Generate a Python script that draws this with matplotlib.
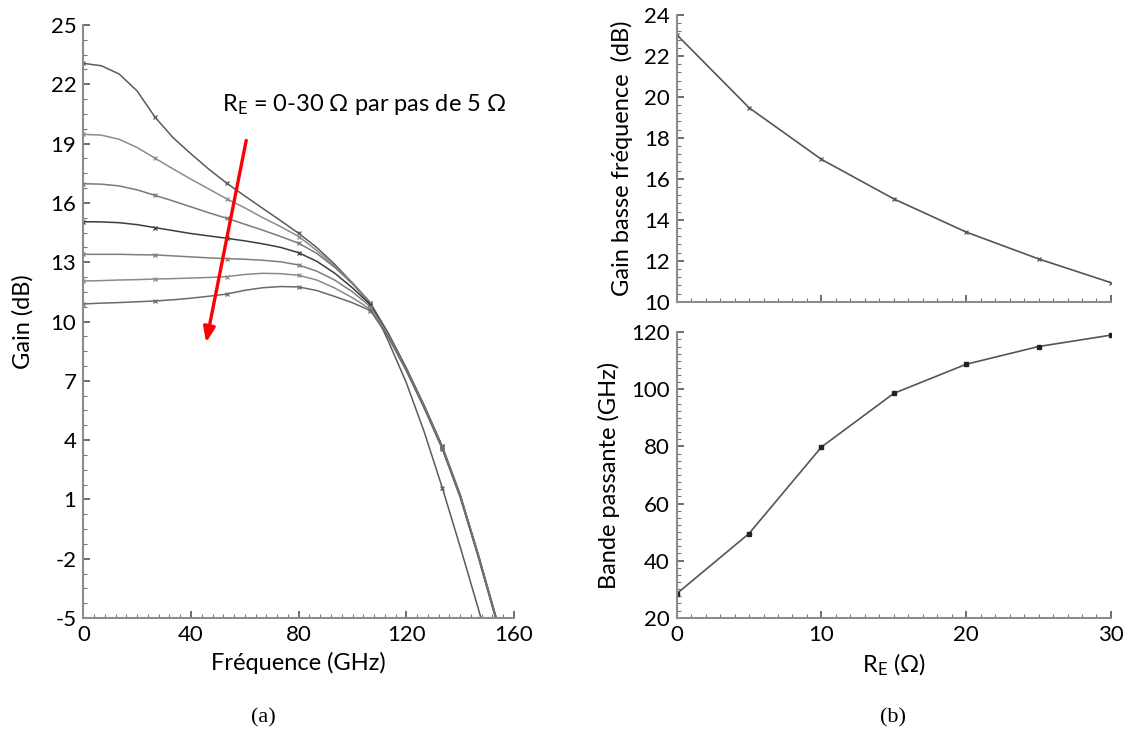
import numpy as np
import matplotlib
matplotlib.use("Agg")
import matplotlib.pyplot as plt
from matplotlib.ticker import FixedLocator

plt.rcParams['font.family'] = ['Lato', 'DejaVu Sans']
plt.rcParams['mathtext.fontset'] = 'custom'
plt.rcParams['mathtext.rm'] = 'Lato'
plt.rcParams['axes.unicode_minus'] = False

# fréquences (GHz) (a)
freq = [0, 6.67, 13.33, 20, 26.67, 33.33, 40, 46.67, 53.33, 60, 66.67, 73.33, 80,
        86.67, 93.33, 100, 106.67, 113.33, 120, 126.67, 133.33, 140, 146.67, 153.33, 160]

# gain (dB) pour RE = 0..30 ohm
gain_re0 = [23.06, 22.94, 22.52, 21.66, 20.33, 19.3, 18.48, 17.7, 16.99, 16.35, 15.72, 15.1, 14.46,
            13.75, 12.9, 11.95, 10.95, 9.0, 6.9, 4.4, 1.6, -1.4, -4.5, -7.7, -11.0]
gain_re5 = [19.47, 19.43, 19.22, 18.8, 18.26, 17.72, 17.2, 16.7, 16.2, 15.75, 15.25, 14.8, 14.3,
            13.6, 12.8, 11.95, 10.95, 9.4, 7.65, 5.75, 3.7, 1.25, -1.75, -4.95, -8.25]
gain_re10 = [16.97, 16.95, 16.86, 16.66, 16.38, 16.1, 15.8, 15.5, 15.22, 14.92, 14.62, 14.3, 13.96,
             13.45, 12.75, 11.9, 10.9, 9.38, 7.63, 5.73, 3.68, 1.22, -1.78, -4.98, -8.28]
gain_re15 = [15.05, 15.04, 15.0, 14.9, 14.75, 14.6, 14.45, 14.33, 14.21, 14.08, 13.93, 13.75, 13.48,
             13.05, 12.45, 11.7, 10.85, 9.35, 7.6, 5.7, 3.65, 1.2, -1.8, -5.0, -8.3]
gain_re20 = [13.4, 13.4, 13.4, 13.38, 13.37, 13.32, 13.27, 13.22, 13.18, 13.15, 13.1, 13.02, 12.86,
             12.55, 12.1, 11.5, 10.75, 9.3, 7.57, 5.67, 3.62, 1.17, -1.83, -5.03, -8.33]
gain_re25 = [12.05, 12.07, 12.1, 12.12, 12.15, 12.17, 12.2, 12.23, 12.27, 12.38, 12.44, 12.42, 12.34,
             12.1, 11.7, 11.2, 10.62, 9.25, 7.54, 5.64, 3.59, 1.14, -1.86, -5.06, -8.36]
gain_re30 = [10.89, 10.93, 10.96, 11.0, 11.04, 11.1, 11.18, 11.28, 11.39, 11.58, 11.71, 11.77, 11.75,
             11.57, 11.27, 10.95, 10.55, 9.2, 7.5, 5.6, 3.55, 1.1, -1.9, -5.1, -8.4]

courbes = [gain_re0, gain_re5, gain_re10, gain_re15, gain_re20, gain_re25, gain_re30]
couleurs = ['#5a5a5a', '#8c8c8c', '#7a7a7a', '#3c3c3c', '#7e7e7e', '#8a8a8a', '#6a6a6a']

# figure (b)
re_ohm = [0, 5, 10, 15, 20, 25, 30]
gain_bf = [23.04, 19.47, 16.95, 15.02, 13.4, 12.09, 10.93]
bande = [28.4, 49.5, 79.8, 98.6, 108.8, 115.0, 119.0]

gris = '#8c8c8c'
fs_tick = 16
fs_lab = 17


def style_axe(ax):
    for s in ['top', 'right']:
        ax.spines[s].set_visible(False)
    for s in ['left', 'bottom']:
        ax.spines[s].set_color(gris)
        ax.spines[s].set_linewidth(1.5)
    ax.tick_params(which='major', direction='in', length=5, width=1.2, color='#555555',
                   labelsize=fs_tick, pad=5)
    ax.tick_params(which='minor', direction='in', length=3, width=0.8, color='#777777')


fig = plt.figure(figsize=(11.28, 7.56), dpi=100)

# (a) gain vs fréquence
ax1 = fig.add_axes([0.0739, 0.1825, 0.3818, 0.7844])
for g, c in zip(courbes, couleurs):
    ax1.plot(freq, g, color=c, lw=1.1, marker='x', ms=3, mew=0.9, markevery=4)
ax1.set_xlim(0, 160)
ax1.set_ylim(-5, 25)
ax1.set_xticks([0, 40, 80, 120, 160])
ax1.set_yticks(np.arange(-5, 26, 3))
ax1.xaxis.set_minor_locator(FixedLocator(np.arange(0, 160.1, 4)))
ax1.yaxis.set_minor_locator(FixedLocator(np.arange(-5, 25.01, 0.75)))
style_axe(ax1)
ax1.set_xlabel('Fréquence (GHz)', fontsize=fs_lab, labelpad=5)
ax1.set_ylabel('Gain (dB)', fontsize=fs_lab, labelpad=12)
ax1.annotate('', xy=(45.4, 8.8), xytext=(60.7, 19.3),
             arrowprops=dict(arrowstyle='-|>,head_length=0.9,head_width=0.35',
                             color='#ff0000', lw=2.4))
ax1.text(51.5, 20.65, r'$\mathregular{R_E}$ = 0-30 Ω par pas de 5 Ω', fontsize=17,
         va='baseline', ha='left')

# (b) haut : gain basse fréquence
ax2 = fig.add_axes([0.5999, 0.6009, 0.385, 0.3793])
ax2.plot(re_ohm, gain_bf, color='#555555', lw=1.2, marker='x', ms=3, mew=0.9)
ax2.set_xlim(0, 30)
ax2.set_ylim(10, 24)
ax2.set_xticks([0, 10, 20, 30])
ax2.set_xticklabels([])
ax2.set_yticks(np.arange(10, 25, 2))
ax2.xaxis.set_minor_locator(FixedLocator(np.arange(0, 30.1, 1)))
ax2.yaxis.set_minor_locator(FixedLocator(np.arange(10, 24.01, 0.4)))
style_axe(ax2)
ax2.set_ylabel('Gain basse fréquence  (dB)', fontsize=fs_lab, labelpad=8)

# (b) bas : bande passante
ax3 = fig.add_axes([0.5999, 0.1829, 0.385, 0.3776])
ax3.plot(re_ohm, bande, color='#555555', lw=1.2, marker='s', ms=2.5, mfc='#222222', mec='#222222')
ax3.set_xlim(0, 30)
ax3.set_ylim(20, 120)
ax3.set_xticks([0, 10, 20, 30])
ax3.set_yticks(np.arange(20, 121, 20))
ax3.xaxis.set_minor_locator(FixedLocator(np.arange(0, 30.1, 1)))
ax3.yaxis.set_minor_locator(FixedLocator(np.arange(20, 120.1, 2.5)))
style_axe(ax3)
ax3.set_xlabel(r'$\mathregular{R_E}$ (Ω)', fontsize=fs_lab, labelpad=5)
ax3.set_ylabel('Bande passante (GHz)', fontsize=fs_lab, labelpad=8)

fig.text(263 / 1128, 1 - 718 / 756, '(a)', fontsize=16, family='Liberation Serif',
         ha='center', va='center')
fig.text(893 / 1128, 1 - 718 / 756, '(b)', fontsize=16, family='Liberation Serif',
         ha='center', va='center')

fig.savefig('out.png', dpi=100)
